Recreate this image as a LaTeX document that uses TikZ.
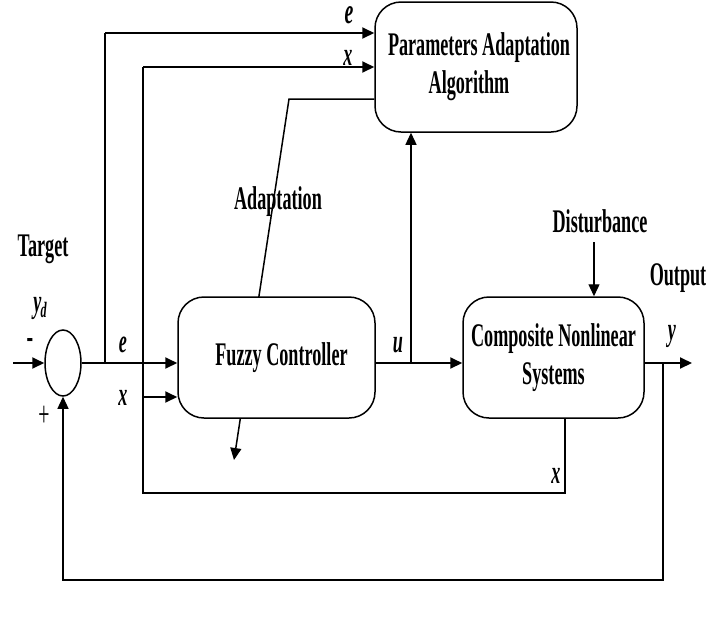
\documentclass[tikz,border=0pt]{standalone}
\usepackage{fontspec}
\setmainfont{Liberation Serif}[FakeStretch=0.55]
\usetikzlibrary{arrows.meta,shapes.geometric,backgrounds}
\begin{document}
\begin{tikzpicture}[x=1pt,y=-1pt,
  line width=1.3pt,
  arr/.style={-{Triangle[length=12pt,width=11pt]}},
  thk/.style={line width=1.9pt},
  blk/.style={draw,line width=1.5pt,rounded corners=26pt,fill=white,align=center,inner sep=0pt,font=\fontsize{33}{38}\selectfont\bfseries},
  lab/.style={inner sep=0pt,anchor=base,font=\fontsize{33}{36}\selectfont\bfseries},
  var/.style={inner sep=0pt,anchor=base,font=\fontsize{33}{36}\selectfont\bfseries\itshape}]
\useasboundingbox (0,0) rectangle (709,619);
% blocks
\node[blk,minimum width=202pt,minimum height=130pt] (paa) at (476,67) {\hspace*{6pt}Parameters Adaptation\\\hspace*{-14pt}Algorithm};
\node[blk,minimum width=197pt,minimum height=121pt] (fc) at (276.5,357.5) {\hspace*{10pt}Fuzzy Controller};
\node[blk,minimum width=181pt,minimum height=121pt] (cns) at (553.5,357.5) {Composite Nonlinear\\Systems};
\node[draw,ellipse,line width=1.5pt,minimum width=36pt,minimum height=66pt,inner sep=0pt] (sum) at (63,363) {};
% coordinates
\coordinate (in) at (13,363);
\coordinate (eb) at (105,363);
\coordinate (etop) at (105,33);
\coordinate (xa) at (143,67);
\coordinate (xm) at (143,397);
\coordinate (xb) at (143,493);
\coordinate (xc) at (565,493);
\coordinate (ad1) at (289,99);
\coordinate (ad2) at (234,460);
\coordinate (ub) at (411,363);
\coordinate (ds) at (594,242);
\coordinate (yo) at (692,363);
\coordinate (yb) at (663,363);
\coordinate (fb1) at (663,580);
\coordinate (fb2) at (63,580);
% connectors
\draw[arr,thk] (in) -- (sum.west);
\draw[arr,thk] (sum.east) -- (sum.east -| fc.west);
\draw (eb) -- (etop);
\draw[arr,thk] (etop) -- (etop -| paa.west);
\draw (xc |- cns.south) -- (xc) -- (xb) -- (xa);
\draw[arr,thk] (xa) -- (xa -| paa.west);
\draw[arr,thk] (xm) -- (xm -| fc.west);
\begin{scope}[on background layer]
\draw[arr,line width=1.5pt] (ad1 -| paa.west) -- (ad1) -- (ad2);
\end{scope}
\draw[arr,thk] (ub -| fc.east) -- (ub -| cns.west);
\draw[arr] (ub) -- (ub |- paa.south);
\draw[arr] (ds) -- (ds |- cns.north);
\draw[arr,thk] (cns.east |- yo) -- (yo);
\draw[arr] (yb) -- (fb1) -- (fb2) -- (sum.south);
% labels
\node[lab] (target) at (43,256) {Target};
\node[var] (yd) at (40,312) {y\kern-1pt\raisebox{-5pt}{\fontsize{22}{22}\selectfont d}};
\node[lab,font=\fontsize{36}{36}\selectfont\bfseries] (minus) at (30,348) {-};
\node[lab,font=\fontsize{36}{36}\selectfont] (plus) at (44,426) {+};
\node[var] (e1) at (123,352) {e};
\node[var] (x1) at (123,405) {x};
\node[var,font=\fontsize{36}{36}\selectfont\bfseries\itshape] (e2) at (349,23) {e};
\node[var] (x2) at (348,65) {x};
\node[lab] (adapt) at (278,209) {Adaptation};
\node[var] (u) at (398,352) {u};
\node[lab] (dist) at (600,232) {Disturbance};
\node[lab] (out) at (678,285) {Output};
\node[var] (y) at (672,340) {y};
\node[var] (x3) at (556,483) {x};
\end{tikzpicture}
\end{document}
